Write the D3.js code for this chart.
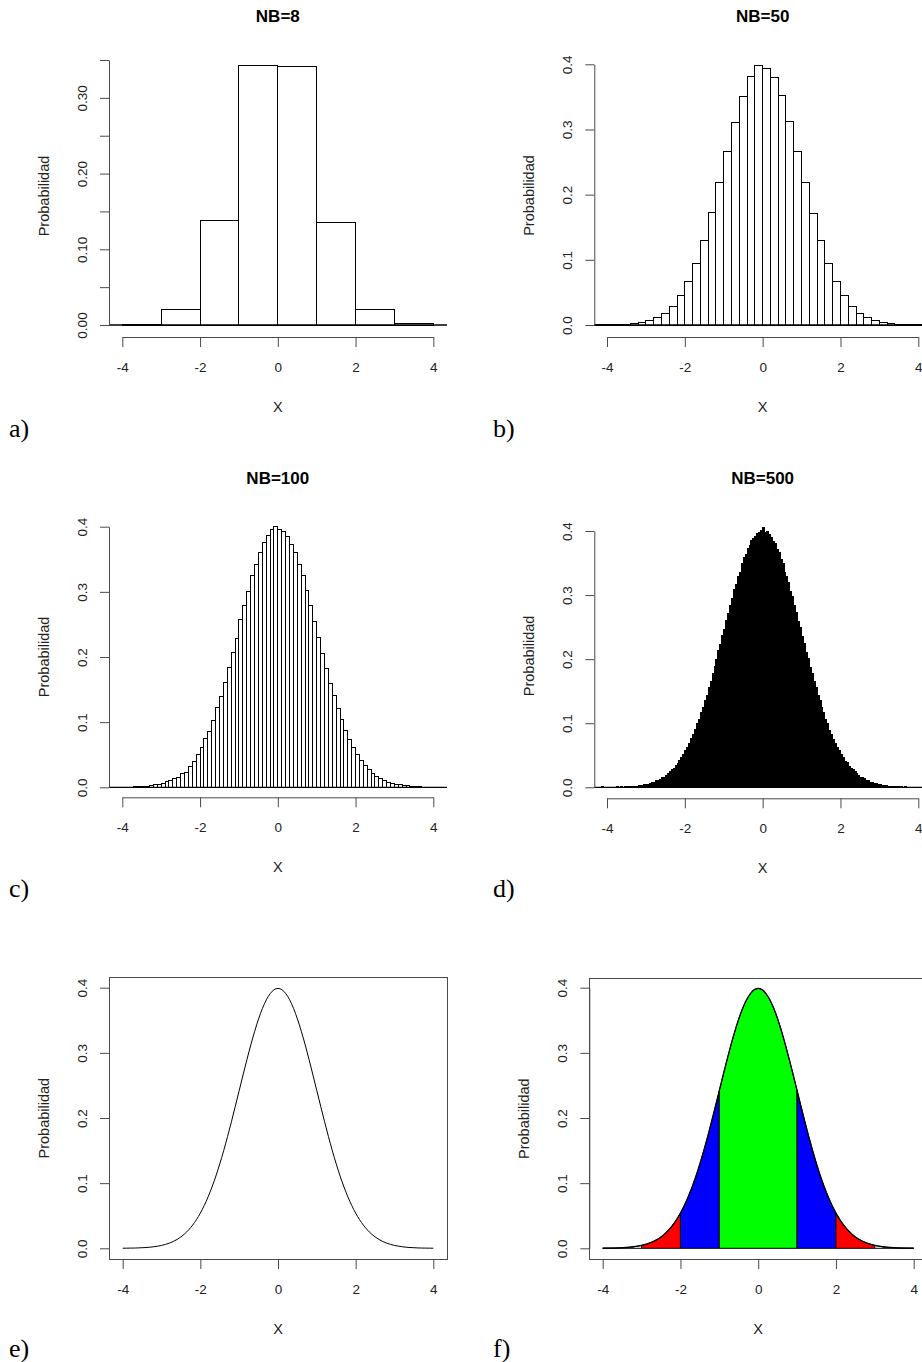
<!DOCTYPE html>
<html>
<head>
<meta charset="utf-8">
<script src="https://cdn.jsdelivr.net/npm/d3@7"></script>
<style>
  body { margin: 0; background: #fff; }
  svg { display: block; }
  text { font-family: "Liberation Sans", Arial, Helvetica, sans-serif; }
  .tag { font-family: "Liberation Serif", "Times New Roman", serif; }
</style>
</head>
<body>
<svg id="chart" width="922" height="1362"></svg>
<script>
// ---- data ----
const xTicks = [-4, -2, 0, 2, 4];

const ticksNarrow = [0, 0.05, 0.1, 0.15, 0.2, 0.25, 0.3, 0.35];
const labelsNarrow = ['0.00', '', '0.10', '', '0.20', '', '0.30', ''];
const ticksWide = [0, 0.1, 0.2, 0.3, 0.4];
const labelsWide = ['0.0', '0.1', '0.2', '0.3', '0.4'];

// NB=8 : bins of width 1 starting at -4
const nb8Start = -4, nb8Width = 1;
const nb8Values = [0.0013, 0.0207, 0.1374, 0.3432, 0.3419, 0.1357, 0.0207, 0.0026];

// NB=50 : bins of width 0.2 starting at -4.4
const nb50Start = -4.4, nb50Width = 0.2;
const nb50Values = [
  0.0001, 0.0002, 0.0003, 0.0005, 0.0008, 0.0026, 0.004, 0.007, 0.011, 0.017,
  0.029, 0.045, 0.0665, 0.094, 0.130, 0.173, 0.218, 0.266, 0.311, 0.351,
  0.382, 0.398, 0.394, 0.379, 0.352, 0.313, 0.266, 0.218, 0.171, 0.130,
  0.094, 0.066, 0.045, 0.029, 0.017, 0.011, 0.007, 0.004, 0.0026, 0.0008,
  0.0005, 0.0003, 0.0002, 0.0001
];

// NB=100 : bins of width 0.1 starting at -4.3
const nb100Start = -4.3, nb100Width = 0.1;
const nb100Values = [
  0.0001, 0.0001, 0.0002, 0.0002, 0.0003, 0.0004, 0.0005, 0.0007, 0.0009, 0.0013,
  0.0026, 0.0046, 0.005, 0.0066, 0.0082, 0.0102, 0.0138, 0.0153, 0.0205, 0.023,
  0.0317, 0.0389, 0.0496, 0.0614, 0.0742, 0.0859, 0.1033, 0.1223, 0.1396, 0.1611,
  0.1836, 0.2066, 0.2286, 0.2568, 0.2783, 0.3003, 0.3248, 0.3422, 0.3601, 0.3754,
  0.3872, 0.3959, 0.400, 0.396, 0.392, 0.3857, 0.3734, 0.3606, 0.3422, 0.3248,
  0.3028, 0.2793, 0.2552, 0.2302, 0.2056, 0.1821, 0.1591, 0.1402, 0.1207, 0.1043,
  0.087, 0.0737, 0.0614, 0.0496, 0.0409, 0.0327, 0.0276, 0.021, 0.0164, 0.0128,
  0.0097, 0.0077, 0.0061, 0.0046, 0.0036, 0.0031, 0.0026, 0.001, 0.0007, 0.0005,
  0.0004, 0.0003, 0.0002, 0.0002, 0.0001, 0.0001, 0.0001
];

// NB=500 : outline read at a 0.05 step starting at -4.3
const nb500Start = -4.3, nb500Width = 0.05;
const nb500Values = [
  0, 0, 0, 0.001, 0, 0, 0, 0, 0, 0, 0, 0.001, 0, 0.001, 0, 0.001,
  0.001, 0.001, 0.001, 0.002, 0.002, 0.002, 0.003, 0.003, 0.003, 0.004,
  0.005, 0.005, 0.006, 0.007, 0.008, 0.010, 0.011, 0.012, 0.015, 0.016,
  0.019, 0.021, 0.024, 0.027, 0.029, 0.034, 0.037, 0.042, 0.047, 0.051,
  0.057, 0.062, 0.069, 0.076, 0.082, 0.090, 0.099, 0.106, 0.116, 0.124,
  0.135, 0.144, 0.156, 0.165, 0.177, 0.189, 0.199, 0.213, 0.223, 0.237,
  0.247, 0.261, 0.271, 0.284, 0.294, 0.308, 0.317, 0.329, 0.336, 0.349,
  0.358, 0.363, 0.372, 0.377, 0.385, 0.389, 0.392, 0.396, 0.398, 0.401,
  0.406, 0.397, 0.399, 0.394, 0.390, 0.383, 0.380, 0.371, 0.366, 0.355,
  0.349, 0.336, 0.329, 0.319, 0.306, 0.297, 0.283, 0.273, 0.259, 0.249,
  0.235, 0.225, 0.211, 0.201, 0.187, 0.178, 0.165, 0.156, 0.143, 0.135,
  0.124, 0.116, 0.106, 0.099, 0.089, 0.083, 0.075, 0.069, 0.062, 0.057,
  0.051, 0.047, 0.041, 0.038, 0.033, 0.030, 0.027, 0.024, 0.021, 0.019,
  0.016, 0.015, 0.013, 0.011, 0.010, 0.008, 0.007, 0.006, 0.006, 0.005,
  0.004, 0.003, 0.003, 0.003, 0.002, 0.002, 0.002, 0.001, 0.001, 0.001,
  0.001, 0.001, 0, 0.001, 0, 0, 0, 0, 0, 0, 0, 0, 0, 0, 0, 0, 0, 0, 0, 0
];

// density curve, one value every 0.1 from -4 to 4
const curveStart = -4, curveStep = 0.1;
const curveValues = [
  0.0001, 0.0002, 0.0003, 0.0004, 0.0006, 0.0009, 0.0012, 0.0017, 0.0024, 0.0033,
  0.0044, 0.0060, 0.0079, 0.0104, 0.0136, 0.0175, 0.0224, 0.0283, 0.0355, 0.0440,
  0.0540, 0.0656, 0.0790, 0.0940, 0.1109, 0.1295, 0.1497, 0.1714, 0.1942, 0.2179,
  0.2420, 0.2661, 0.2897, 0.3123, 0.3332, 0.3521, 0.3683, 0.3814, 0.3910, 0.3970,
  0.3989,
  0.3970, 0.3910, 0.3814, 0.3683, 0.3521, 0.3332, 0.3123, 0.2897, 0.2661, 0.2420,
  0.2179, 0.1942, 0.1714, 0.1497, 0.1295, 0.1109, 0.0940, 0.0790, 0.0656, 0.0540,
  0.0440, 0.0355, 0.0283, 0.0224, 0.0175, 0.0136, 0.0104, 0.0079, 0.0060, 0.0044,
  0.0033, 0.0024, 0.0017, 0.0012, 0.0009, 0.0006, 0.0004, 0.0003, 0.0002, 0.0001
];

// shaded bands under the curve in panel f
const bandBreaks = [-4, -3, -2, -1, 1, 2, 3, 4];
const bandColors = ['#ffffff', '#ff0000', '#0000ff', '#00ff00', '#0000ff', '#ff0000', '#ffffff'];

// ---- layout ----
const axisColor = '#4a4a4a';
const textColor = '#222';

const panels = [
  { kind: 'hist', title: 'NB=8', tag: 'a)', start: nb8Start, width: nb8Width, values: nb8Values, fill: '#fff',
    yTicks: ticksNarrow, yLabels: labelsNarrow, yMax: 0.35,
    xA: 122.3, xB: 433.3, left: 109, right: 447, y0: 325, yT: 60, top: 55, axisY: 337,
    titleY: 22, tagX: 9, tagY: 437 },
  { kind: 'hist', title: 'NB=50', tag: 'b)', start: nb50Start, width: nb50Width, values: nb50Values, fill: '#fff',
    yTicks: ticksWide, yLabels: labelsWide, yMax: 0.4,
    xA: 607, xB: 918.3, left: 594.3, right: 931, y0: 325, yT: 64.3, top: 54, axisY: 337,
    titleY: 22, tagX: 493, tagY: 437 },
  { kind: 'hist', title: 'NB=100', tag: 'c)', start: nb100Start, width: nb100Width, values: nb100Values, fill: '#fff',
    yTicks: ticksWide, yLabels: labelsWide, yMax: 0.4,
    xA: 122.3, xB: 433.3, left: 109, right: 447, y0: 787.3, yT: 526.7, top: 516.5, axisY: 797.3,
    titleY: 484, tagX: 9, tagY: 897 },
  { kind: 'hist', title: 'NB=500', tag: 'd)', start: nb500Start, width: nb500Width, values: nb500Values, fill: '#000',
    yTicks: ticksWide, yLabels: labelsWide, yMax: 0.4,
    xA: 607, xB: 918.3, left: 594.3, right: 931, y0: 787.3, yT: 531, top: 513.5, axisY: 798.3,
    titleY: 484, tagX: 493, tagY: 897 },
  { kind: 'curve', title: '', tag: 'e)', bands: false,
    yTicks: ticksWide, yLabels: labelsWide, yMax: 0.4,
    xA: 122.7, xB: 433.3, left: 109, right: 447, y0: 1248.3, yT: 987.7, top: 977.3, axisY: 1259,
    titleY: 0, tagX: 9, tagY: 1357 },
  { kind: 'curve', title: '', tag: 'f)', bands: true,
    yTicks: ticksWide, yLabels: labelsWide, yMax: 0.4,
    xA: 602.7, xB: 913.7, left: 589.3, right: 927, y0: 1248.3, yT: 987.7, top: 978.3, axisY: 1259,
    titleY: 0, tagX: 493, tagY: 1357 }
];

const svg = d3.select('#chart');
svg.append('rect').attr('width', 922).attr('height', 1362).attr('fill', '#fff');

const curvePoints = curveValues.map((v, i) => ({ x: curveStart + i * curveStep, v, i }));

panels.forEach((p, pi) => {
  const x = d3.scaleLinear().domain([-4, 4]).range([p.xA, p.xB]);
  const y = d3.scaleLinear().domain([0, p.yMax]).range([p.y0, p.yT]);
  const g = svg.append('g');

  const clipId = `clip${pi}`;
  g.append('clipPath').attr('id', clipId)
    .append('rect')
    .attr('x', p.left).attr('y', p.top)
    .attr('width', p.right - p.left).attr('height', p.axisY - p.top);

  const plot = g.append('g').attr('clip-path', `url(#${clipId})`);

  if (p.kind === 'hist') {
    const bins = p.values.map((v, i) => ({
      lo: p.start + i * p.width,
      hi: p.start + (i + 1) * p.width,
      v
    }));
    plot.selectAll('rect.bar')
      .data(bins)
      .join('rect')
      .attr('class', 'bar')
      .attr('x', d => x(d.lo))
      .attr('width', d => x(d.hi) - x(d.lo))
      .attr('y', d => y(d.v))
      .attr('height', d => y(0) - y(d.v))
      .attr('fill', p.fill)
      .attr('stroke', '#000')
      .attr('stroke-width', 1)
      .attr('shape-rendering', 'crispEdges');

    plot.append('line')
      .attr('x1', p.left).attr('x2', p.right)
      .attr('y1', y(0)).attr('y2', y(0))
      .attr('stroke', '#000')
      .attr('stroke-width', 1.3);
  } else {
    const line = d3.line()
      .x(d => x(d.x))
      .y(d => y(d.v))
      .curve(d3.curveMonotoneX);

    if (p.bands) {
      const bands = bandColors.map((c, k) => {
        const i0 = Math.round((bandBreaks[k] - curveStart) / curveStep);
        const i1 = Math.round((bandBreaks[k + 1] - curveStart) / curveStep);
        const pts = curvePoints.slice(i0, i1 + 1);
        return { c, pts };
      });
      plot.selectAll('path.band')
        .data(bands)
        .join('path')
        .attr('class', 'band')
        .attr('d', d => {
          const a = d.pts[0], b = d.pts[d.pts.length - 1];
          return `M${x(a.x)},${y(0)}` + d.pts.map(q => `L${x(q.x)},${y(q.v)}`).join('') + `L${x(b.x)},${y(0)}Z`;
        })
        .attr('fill', d => d.c)
        .attr('stroke', '#000')
        .attr('stroke-width', 1);
    }

    plot.append('path')
      .datum(curvePoints)
      .attr('d', line)
      .attr('fill', 'none')
      .attr('stroke', '#000')
      .attr('stroke-width', p.bands ? 1.3 : 1);

    g.append('rect')
      .attr('x', p.left).attr('y', p.top)
      .attr('width', p.right - p.left).attr('height', p.axisY - p.top)
      .attr('fill', 'none')
      .attr('stroke', axisColor)
      .attr('shape-rendering', 'crispEdges');
  }

  // x axis
  const ax = g.append('g')
    .attr('transform', `translate(0,${p.axisY})`)
    .call(d3.axisBottom(x).tickValues(xTicks).tickSize(10).tickSizeOuter(0).tickFormat(d => String(d)));
  ax.attr('font-family', null).attr('font-size', null);
  ax.select('.domain').attr('stroke', axisColor);
  ax.selectAll('.tick line').attr('stroke', axisColor);
  ax.selectAll('.tick text')
    .attr('y', 35).attr('dy', null)
    .attr('fill', textColor)
    .style('font-size', '13.5px');

  // y axis
  const ay = g.append('g')
    .attr('transform', `translate(${p.left},0)`)
    .call(d3.axisLeft(y).tickValues(p.yTicks).tickSize(9).tickSizeOuter(0)
      .tickFormat(d => p.yLabels[p.yTicks.indexOf(d)]));
  ay.attr('font-family', null).attr('font-size', null);
  ay.select('.domain').attr('stroke', axisColor);
  ay.selectAll('.tick line').attr('stroke', axisColor);
  ay.selectAll('.tick text')
    .attr('x', 0).attr('dy', null)
    .attr('transform', 'translate(-22.5,0) rotate(-90)')
    .attr('text-anchor', 'middle')
    .attr('fill', textColor)
    .style('font-size', '13.5px');

  // axis titles
  g.append('text')
    .attr('x', x(0)).attr('y', p.axisY + 75)
    .attr('text-anchor', 'middle')
    .attr('fill', textColor)
    .style('font-size', '14.5px')
    .text('X');

  const midY = (p.top + p.axisY) / 2;
  g.append('text')
    .attr('transform', `translate(${p.left - 60},${midY}) rotate(-90)`)
    .attr('text-anchor', 'middle')
    .attr('fill', textColor)
    .style('font-size', '14.5px')
    .text('Probabilidad');

  if (p.title) {
    g.append('text')
      .attr('x', x(0)).attr('y', p.titleY)
      .attr('text-anchor', 'middle')
      .attr('fill', '#000')
      .style('font-size', '17px')
      .style('font-weight', 'bold')
      .text(p.title);
  }

  g.append('text')
    .attr('class', 'tag')
    .attr('x', p.tagX).attr('y', p.tagY)
    .attr('fill', '#000')
    .style('font-size', '26px')
    .text(p.tag);
});
</script>
</body>
</html>
